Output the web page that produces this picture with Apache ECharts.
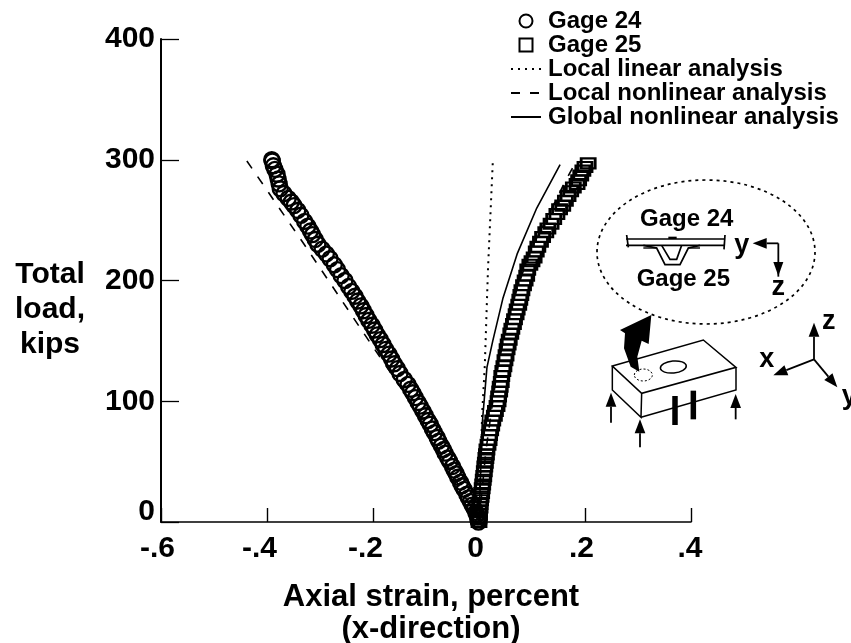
<!DOCTYPE html>
<html><head><meta charset="utf-8">
<style>html,body{margin:0;padding:0;background:#fff}#c{width:851px;height:643px}</style>
<script src="https://cdn.jsdelivr.net/npm/echarts@6/dist/echarts.min.js"></script>
</head><body><div id="c"></div>
<script>
const xTicks = [-0.6,-0.4,-0.2,0,0.2,0.4];
const yTicks = [0,100,200,300,400];
const xTitle = 'Axial strain, percent\n(x-direction)';
const yTitle = 'Total\nload,\nkips';

const strain24 = [-.001,-.002,-.002,-.004,-.006,-.009,-.013,-.016,-.02,-.023,-.028,-.032,-.035,-.04,-.043,-.047,-.05,-.055,-.059,-.064,-.067,-.071,-.076,-.079,-.084,-.088,-.092,-.096,-.101,-.106,-.111,-.115,-.12,-.125,-.129,-.134,-.141,-.149,-.154,-.16,-.165,-.17,-.176,-.181,-.186,-.192,-.197,-.202,-.208,-.213,-.218,-.223,-.229,-.234,-.24,-.246,-.253,-.26,-.267,-.273,-.281,-.288,-.296,-.304,-.309,-.314,-.318,-.323,-.329,-.336,-.342,-.349,-.354,-.36,-.368,-.375,-.377,-.379,-.381,-.385,-.388,-.39,-.391];
const load24 = [0,2,4,6,8,11,14,17,20,23,27,30,33,37,40,43,46,50,53,57,60,63,67,70,74,77,81,84,88,92,96,99,103,107,110,114,118,123,127,131,135,139,143,147,151,155,159,163,167,171,175,179,183,187,191,195,200,204,209,213,218,222,226,230,234,238,241,245,249,254,258,262,265,268,272,276,280,284,288,292,295,299,300];

const strain25 = [0,0,.001,.001,.002,.002,.003,.004,.005,.006,.007,.008,.009,.01,.011,.012,.013,.014,.015,.017,.019,.02,.022,.024,.026,.029,.031,.034,.036,.037,.039,.04,.042,.043,.045,.047,.049,.051,.053,.055,.057,.06,.062,.065,.067,.07,.072,.075,.077,.079,.081,.084,.087,.09,.092,.096,.1,.104,.108,.111,.116,.12,.126,.13,.136,.141,.147,.152,.158,.163,.168,.173,.178,.185,.188,.192,.196,.2,.206,.213];
const load25 = [0,3,6,9,12,15,18,21,24,28,31,35,38,42,46,49,53,56,60,64,68,72,76,80,84,88,92,96,100,104,108,112,116,121,125,129,134,138,143,147,151,156,160,164,168,172,176,180,184,188,192,196,200,204,209,213,216,219,224,228,232,236,240,243,247,251,255,259,262,266,270,274,277,280,283,287,291,294,297];

const linearStrain = [0,.006,.011,.017,.026];
const linearLoad = [0,90,130,210,298];
const nonlinLeftStrain = [-.438,-.33,-.22,-.11,0];
const nonlinLeftLoad = [299,230,158,87,0];
const nonlinRightStrain = [0,.013,.034,.058,.096,.14,.158,.181];
const nonlinRightLoad = [0,59,125,175,224,262,278,297];
const globalStrain = [0,.006,.015,.026,.045,.072,.109,.153];
const globalLoad = [0,81,128,150,185,222,260,296];

const zip = (a,b) => a.map((v,i) => [v,b[i]]);
const FONT = '"Liberation Sans", Arial, sans-serif';
const labelText = v => v === 0 ? '0' : String(v).replace('0.','.');
const xLabelFmt = v => {
  const t = labelText(v);
  const cls = (v === -0.4 || v === -0.2) ? 'wide' : (v === 0.4 ? 'plain' : 'mid');
  return `{${cls}|${t}}`;
};
const labelBase = {fontFamily:FONT,fontWeight:'bold',fontSize:30,color:'#000'};

// inset drawing helpers: z-coordinates are 3x offsets from (560,170)
const X = z => 560 + z/3, Y = z => 170 + z/3;
const pts = a => a.map(p => [X(p[0]),Y(p[1])]);
const ln = (a,w=1.5,extra={}) => ({type:'polyline',shape:{points:pts(a)},style:Object.assign({stroke:'#000',lineWidth:w,fill:null},extra),silent:true});
const poly = a => ({type:'polygon',shape:{points:pts(a)},style:{fill:'#000'},silent:true});
const txt = (zx,zy,t,s) => ({type:'text',x:X(zx),y:Y(zy),style:{text:t,fill:'#000',font:`bold ${s}px ${FONT}`,align:'center',verticalAlign:'middle'},silent:true});
function arrow(x0,y0,x1,y1){
  const a=Math.atan2(y1-y0,x1-x0),L=42,W=16;
  const bx=x1-L*Math.cos(a),by=y1-L*Math.sin(a),nx=-Math.sin(a),ny=Math.cos(a);
  return [ln([[x0,y0],[bx,by]],1.8),poly([[x1,y1],[bx+nx*W,by+ny*W],[bx-nx*W,by-ny*W]])];
}
const inset = [
  {type:'text',x:50,y:310,style:{text:yTitle,fill:'#000',font:`bold 30px ${FONT}`,lineHeight:35,align:'center',verticalAlign:'middle'},silent:true},
  {type:'ellipse',shape:{cx:X(438),cy:Y(246),rx:109,ry:72},style:{fill:null,stroke:'#000',lineWidth:1.7,lineDash:[3,4]},silent:true},
  txt(380,147,'Gage 24',24), txt(370,328,'Gage 25',24),
  ln([[198,207],[495,207]],1.7), ln([[198,226],[495,226]],1.7),
  ln([[200,195],[205,232]],1.7), ln([[495,195],[492,238]],1.7),
  ln([[250,226],[290,234],[315,284],[360,284],[385,234],[420,226]],1.7),
  ln([[305,226],[330,268],[350,268],[365,226]],1.7),
  ln([[250,234],[290,234]],1.4), ln([[385,234],[420,234]],1.4), poly([[325,200],[350,200],[350,207],[325,207]]),
  txt(545,228,'y',27), txt(655,352,'z',27),
  ...arrow(655,220,578,220), ln([[655,220],[655,320]],1.8), poly([[655,318],[640,276],[670,276]]),
  {type:'polygon',shape:{points:pts([[157,588],[430,510],[528,592],[245,670]])},style:{fill:'#fff',stroke:'#000',lineWidth:1.5},silent:true},
  ln([[157,588],[157,660],[243,742],[245,670]],1.5), ln([[243,742],[528,660],[528,592]],1.5),
  {type:'ellipse',shape:{cx:X(340),cy:Y(591),rx:13,ry:6},rotation:0.1,originX:X(340),originY:Y(591),style:{fill:null,stroke:'#000',lineWidth:1.5},silent:true},
  {type:'ellipse',shape:{cx:X(250),cy:Y(615),rx:9,ry:6},style:{fill:null,stroke:'#000',lineWidth:1,lineDash:[2,2]},silent:true},
  ln([[345,678],[345,765]],5.5), ln([[400,662],[400,748]],5.5),
  poly([[274,435],[266,522],[245,512],[232,560],[238,605],[212,590],[192,535],[195,490],[180,480]]),
  ...arrow(153,758,153,668), ...arrow(240,832,240,748), ...arrow(527,748,527,672),
  ...arrow(762,568,762,458), ...arrow(762,568,640,616), ...arrow(762,568,832,652),
  txt(806,455,'z',27), txt(620,568,'x',27), txt(868,680,'y',27)
];
const noDot = {color:'rgba(0,0,0,0)',borderWidth:0};

const chart = echarts.init(document.getElementById('c'),null,{renderer:'canvas'});
chart.setOption({
  animation:false,
  backgroundColor:'#fff',
  textStyle:{fontFamily:FONT},
  grid:{left:161,top:39,width:530,height:483,containLabel:false,outerBoundsMode:'none'},
  legend:{
    orient:'vertical',left:510,top:9,padding:0,itemWidth:30,itemHeight:13,itemGap:0,
    selectedMode:false,
    textStyle:{fontFamily:FONT,fontWeight:'bold',fontSize:24,lineHeight:24,color:'#000',padding:[0,0,0,2]},
    data:[
      {name:'Gage 24'},
      {name:'Gage 25',icon:'path://M0,0H12V12H0Z'},
      {name:'Local linear analysis'},
      {name:'Local nonlinear analysis'},
      {name:'Global nonlinear analysis'}
    ]
  },
  xAxis:{
    type:'value',min:-0.6,max:0.4,interval:0.2,
    axisLine:{onZero:false,lineStyle:{color:'#000',width:1.6}},
    axisTick:{inside:true,length:14,lineStyle:{color:'#000',width:1.4}},
    splitLine:{show:false},
    axisLabel:{margin:12,...labelBase,formatter:xLabelFmt,showMinLabel:true,showMaxLabel:true,
      rich:{
        wide:{...labelBase,padding:[0,15,0,0]},
        mid:{...labelBase,padding:[0,7,0,0]},
        plain:{...labelBase,padding:[0,2,0,0]}
      }},
    name:xTitle,nameLocation:'middle',nameGap:59,
    nameTextStyle:{fontFamily:FONT,fontWeight:'bold',fontSize:31,lineHeight:32,color:'#000',padding:[0,0,0,10],verticalAlign:'top'}
  },
  yAxis:{
    type:'value',min:0,max:400,interval:100,
    axisLine:{onZero:false,lineStyle:{color:'#000',width:2}},
    axisTick:{inside:true,length:18,lineStyle:{color:'#000',width:1.3}},
    splitLine:{show:false},
    axisLabel:{margin:6,...labelBase,lineHeight:20,formatter:labelText,verticalAlignMinLabel:'bottom'}
  },
  graphic:{elements:inset},
  series:[
    {name:'Local linear analysis',type:'line',data:zip(linearStrain,linearLoad),symbol:'none',z:2,lineStyle:{color:'#000',width:2,type:[2,5]},itemStyle:noDot},
    {name:'Local nonlinear analysis',type:'line',data:zip(nonlinLeftStrain,nonlinLeftLoad),symbol:'none',z:2,lineStyle:{color:'#000',width:1.6,type:[9,10]},itemStyle:noDot},
    {name:'Local nonlinear analysis',type:'line',data:zip(nonlinRightStrain,nonlinRightLoad),symbol:'none',z:2,lineStyle:{color:'#000',width:1.6,type:[9,10]},itemStyle:noDot},
    {name:'Global nonlinear analysis',type:'line',data:zip(globalStrain,globalLoad),symbol:'none',z:2,lineStyle:{color:'#000',width:1.6},itemStyle:noDot},
    {name:'Gage 24',type:'scatter',data:zip(strain24,load24),symbol:'circle',symbolSize:15,z:3,itemStyle:{color:'rgba(255,255,255,0)',borderColor:'#000',borderWidth:2.4,opacity:1}},
    {name:'Gage 25',type:'scatter',data:zip(strain25,load25),symbol:'rect',symbolSize:[14,10],z:3,itemStyle:{color:'rgba(255,255,255,0)',borderColor:'#000',borderWidth:2.4,opacity:1}}
  ]
});
</script></body></html>
